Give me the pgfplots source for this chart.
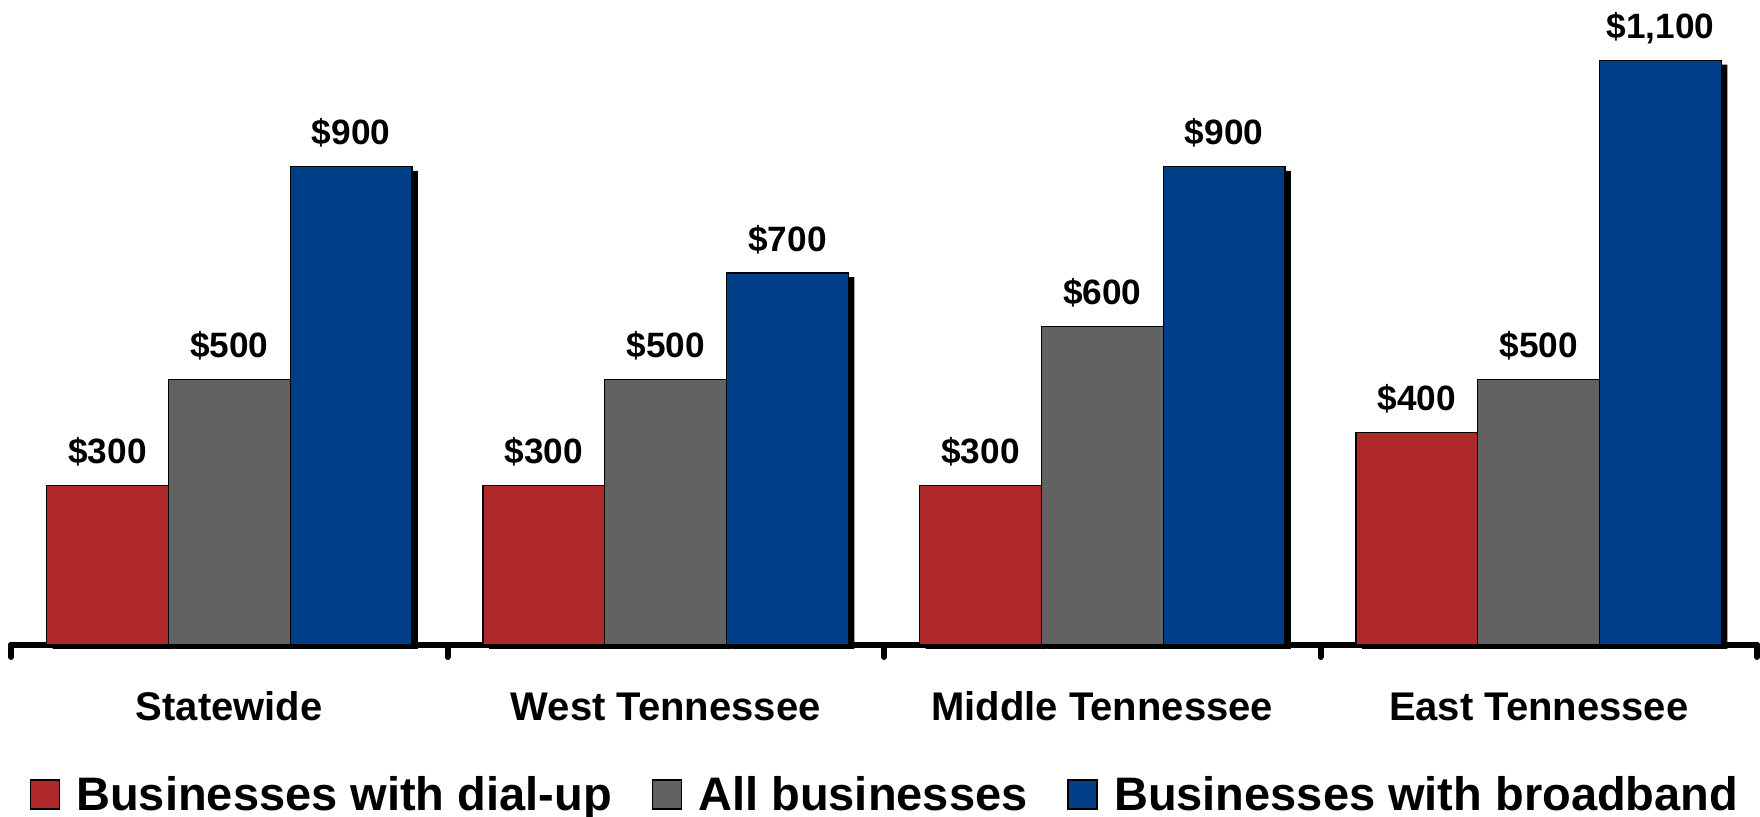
\documentclass[border=0pt]{standalone}
\usepackage{fontspec}
\setmainfont{Liberation Sans}
\usepackage{pgfplots}
\pgfplotsset{compat=1.18}

\definecolor{dialred}{RGB}{175,40,42}
\definecolor{allgray}{RGB}{98,98,98}
\definecolor{bbblue}{RGB}{0,62,135}

\begin{document}
\begin{tikzpicture}
\useasboundingbox (-5.5pt,-86pt) rectangle (874.5pt,322.5pt);
\begin{axis}[
  scale only axis,
  width=873pt, height=322.5pt,
  at={(0,0)}, anchor=south west,
  clip=false,
  ybar=0pt,
  bar width=0.279,
  xmin=-0.5, xmax=3.5,
  ymin=0, ymax=1214,
  axis x line=bottom,
  axis y line=none,
  axis line style={-, line width=3pt, line cap=round},
  tick style={line width=3pt, line cap=round, black},
  major tick length=0pt,
  tick align=outside,
  xtick={0,1,2,3},
  xticklabels={Statewide,West Tennessee,Middle Tennessee,East Tennessee},
  extra x ticks={-0.5,0.5,1.5,2.5,3.5},
  extra x tick labels={},
  extra x tick style={major tick length=6pt},
  xticklabel style={font=\fontsize{20}{24}\selectfont\bfseries, anchor=base, yshift=-38pt},
  nodes near coords={\$\pgfmathprintnumber{\pgfplotspointmeta}},
  every node near coord/.append style={font=\fontsize{17.6}{20}\selectfont\bfseries,
    anchor=base, inner sep=0pt, yshift=11pt},
  /pgf/number format/.cd, fixed, precision=0, 1000 sep={,}, assume math mode=true,
  /pgfplots/.cd,
  legend style={draw=none, fill=none, at={(0.5,0)}, anchor=center, yshift=-75pt,
    legend columns=-1, font=\fontsize{23.5}{26}\selectfont\bfseries,
    nodes={inner sep=0pt},
    /tikz/every odd column/.append style={column sep=8pt},
    /tikz/every even column/.append style={column sep=20pt},
    inner sep=0pt},
  legend image code/.code={\draw[#1, draw=black, line width=0.8pt] (0pt,-7pt) rectangle (14.5pt,7.5pt);},
]

% shadows
\addplot[fill=black, draw=none, bar shift=-0.279, xshift=3pt, yshift=-2pt, nodes near coords={}, forget plot]
  coordinates {(0,300) (1,300) (2,300) (3,400)};
\addplot[fill=black, draw=none, bar shift=0, xshift=3pt, yshift=-2pt, nodes near coords={}, forget plot]
  coordinates {(0,500) (1,500) (2,600) (3,500)};
\addplot[fill=black, draw=none, bar shift=0.279, xshift=3pt, yshift=-2pt, nodes near coords={}, forget plot]
  coordinates {(0,900) (1,700) (2,900) (3,1100)};

\addplot[fill=dialred, draw=black, line width=0.6pt, bar shift=-0.279]
  coordinates {(0,300) (1,300) (2,300) (3,400)};
\addlegendentry{Businesses with dial-up}
\addplot[fill=allgray, draw=black, line width=0.6pt, bar shift=0]
  coordinates {(0,500) (1,500) (2,600) (3,500)};
\addlegendentry{All businesses}
\addplot[fill=bbblue, draw=black, line width=0.6pt, bar shift=0.279]
  coordinates {(0,900) (1,700) (2,900) (3,1100)};
\addlegendentry{Businesses with broadband}

\end{axis}
\end{tikzpicture}
\end{document}
